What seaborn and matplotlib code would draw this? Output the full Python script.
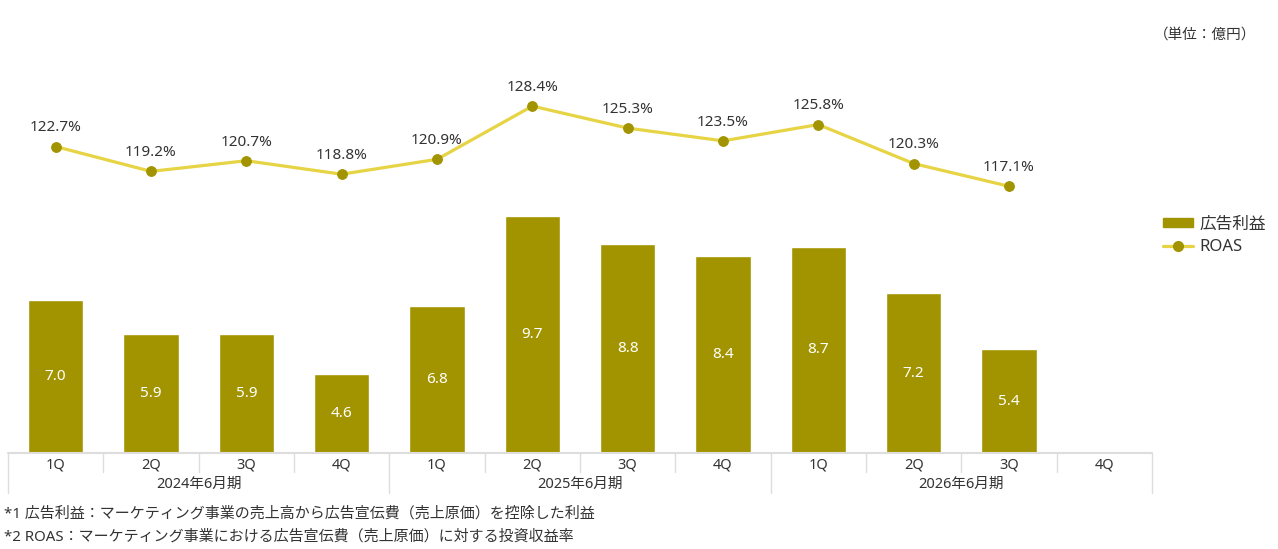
import numpy as np
import pandas as pd
import matplotlib
matplotlib.use("Agg")
import matplotlib.pyplot as plt
from matplotlib.lines import Line2D
from matplotlib.patches import Patch
import seaborn as sns

# data
quarters = ["1Q", "2Q", "3Q", "4Q"] * 3
fiscal_years = ["2024年6月期", "2025年6月期", "2026年6月期"]
ad_profit = [7.0, 5.9, 5.9, 4.6, 6.8, 9.7, 8.8, 8.4, 8.7, 7.2, 5.4]
roas = [122.7, 119.2, 120.7, 118.8, 120.9, 128.4, 125.3, 123.5, 125.8, 120.3, 117.1]
footnotes = [
    "*1 広告利益：マーケティング事業の売上高から広告宣伝費（売上原価）を控除した利益",
    "*2 ROAS：マーケティング事業における広告宣伝費（売上原価）に対する投資収益率",
]

bar_color = "#a29400"
line_color = "#e6d444"
text_color = "#333333"
grid_color = "#dddddd"

sns.set_theme(style="white")
plt.rcParams["font.family"] = ["Noto Sans", "Noto Sans CJK JP", "DejaVu Sans"]

slot_labels = [f"{fy}-{q}" for fy in fiscal_years for q in ["1Q", "2Q", "3Q", "4Q"]]
df = pd.DataFrame({"slot": slot_labels[:len(ad_profit)], "profit": ad_profit})

fig = plt.figure(figsize=(12.78, 5.49), dpi=100)
ax = fig.add_axes([8 / 1278, 1 - 453 / 549, 1144 / 1278, 393 / 549])

sns.barplot(data=df, x="slot", y="profit", order=slot_labels, color=bar_color,
            width=0.58, saturation=1, ax=ax)
ax.set_xlim(-0.5, 11.5)
ax.set_ylim(2.05, 14.73)

for i, v in enumerate(ad_profit):
    ax.text(i, (2.05 + v) / 2, f"{v:.1f}", ha="center", va="center",
            color="white", fontsize=11)

ax2 = ax.twinx()
xs = np.arange(len(roas))
sns.lineplot(x=xs, y=roas, ax=ax2, color=line_color, linewidth=2.3,
             marker="o", markersize=7, markerfacecolor=bar_color,
             markeredgecolor=bar_color)
ax2.set_ylim(79.5, 134.9)
for x, v in zip(xs, roas):
    ax2.annotate(f"{v:.1f}%", (x, v), xytext=(0, 8), textcoords="offset points",
                 ha="center", va="bottom", color=text_color, fontsize=11)

for a in (ax, ax2):
    a.set_xticks([])
    a.set_yticks([])
    a.set_xlabel("")
    a.set_ylabel("")
    for s in a.spines.values():
        s.set_visible(False)

# category table under the axis
tr = ax.get_xaxis_transform()
ax.plot([-0.5, 11.5], [0, 0], color=grid_color, lw=1.5, transform=tr, clip_on=False)
q_bottom = -19 / 393
y_bottom = -40 / 393
for k in range(13):
    xb = -0.5 + k
    yb = y_bottom if k % 4 == 0 else q_bottom
    ax.plot([xb, xb], [0, yb], color=grid_color, lw=1, transform=tr, clip_on=False)
for i, q in enumerate(quarters):
    ax.text(i, -12 / 393, q, transform=tr, ha="center", va="center",
            color=text_color, fontsize=10.5)
for j, fy in enumerate(fiscal_years):
    ax.text(1.5 + 4 * j, -31 / 393, fy, transform=tr, ha="center", va="center",
            color=text_color, fontsize=10.5)

for n, note in enumerate(footnotes):
    fig.text(4 / 1278, 1 - (514 + 23 * n) / 549, note, ha="left", va="center",
             color=text_color, fontsize=10.8)

fig.text(1256 / 1278, 1 - 35 / 549, "（単位：億円）", ha="right", va="center",
         color=text_color, fontsize=10.5)

handles = [
    Patch(facecolor=bar_color, edgecolor=bar_color),
    Line2D([0], [0], color=line_color, lw=2.3, marker="o", markersize=7,
           markerfacecolor=bar_color, markeredgecolor=bar_color),
]
fig.legend(handles, ["広告利益", "ROAS"], loc="center left",
           bbox_to_anchor=(1148 / 1278, 1 - 236 / 549), frameon=False,
           fontsize=12, handlelength=1.8, handleheight=0.5, labelspacing=0.4,
           handletextpad=0.4, labelcolor=text_color)

fig.savefig("out.png", dpi=100)
